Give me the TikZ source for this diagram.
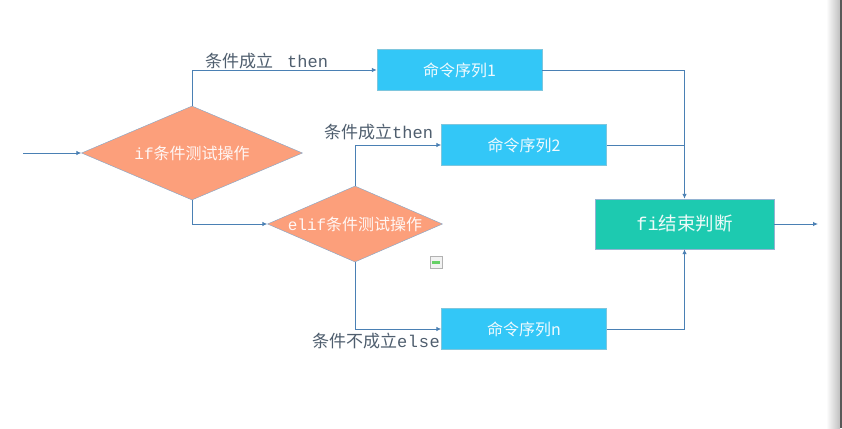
\documentclass[tikz,border=0pt]{standalone}
\usepackage{fontspec}
\setmainfont{Liberation Serif}
\newfontfamily\cjk{Noto Sans CJK SC}
\newfontfamily\mono{Liberation Mono}
\usetikzlibrary{shapes.geometric,arrows.meta}
\definecolor{boxblue}{HTML}{33C7F7}
\definecolor{salmon}{HTML}{FC9F7B}
\definecolor{teal}{HTML}{1DCAB0}
\definecolor{linec}{HTML}{4A80B4}
\definecolor{labc}{HTML}{4F5E6E}
\begin{document}
\begin{tikzpicture}[x=1pt,y=-1pt,
  cmdbox/.style={draw=boxblue!80!black!60, fill=boxblue, minimum width=165pt, minimum height=41pt, inner sep=0pt, text=white!92!boxblue, font=\cjk\fontsize{16}{18}\selectfont},
  decision/.style={diamond, draw=linec!70, fill=salmon, inner sep=0pt, text=white!92!salmon, font=\fontsize{16}{18}\selectfont},
  endbox/.style={draw=linec!60, fill=teal, minimum width=179pt, minimum height=50pt, inner sep=0pt, text=white!92!teal, font=\fontsize{18.5}{20}\selectfont},
  lab/.style={text=labc, inner sep=0pt, font=\fontsize{17}{19}\selectfont},
  conn/.style={draw=linec, line width=0.9pt},
  arr/.style={conn, -{Latex[length=5pt,width=4.5pt]}}]
\useasboundingbox (0,0) rectangle (842,428);
\fill[white] (0,0) rectangle (842,428);
% screenshot edge
\shade[left color=white, right color=black!25] (826,0) rectangle (840,428);
\fill[black!65] (840,0) rectangle (842,428);
% shapes
\node[decision, shape aspect=2.35, minimum width=221pt, minimum height=94pt] (d1) at (192,153) {{\mono if}{\cjk 条件测试操作}};
\node[decision, shape aspect=2.3, minimum width=175pt, minimum height=76pt] (d2) at (355,224) {{\mono elif}{\cjk 条件测试操作}};
\node[cmdbox] (b1) at (459.5,70) {命令序列1};
\node[cmdbox] (b2) at (524,145) {命令序列2};
\node[cmdbox] (bn) at (524,329) {命令序列n};
\node[endbox] (fi) at (684.5,224) {{\mono fi}{\cjk 结束判断}};
\coordinate (in) at (23,153);
\coordinate (out) at (818,224);
% connectors
\draw[arr] (in) -- (d1.west);
\draw[arr] (d1.north) |- (b1.west);
\draw[arr] (d1.south) |- (d2.west);
\draw[arr] (d2.north) |- (b2.west);
\draw[arr] (d2.south) |- (bn.west);
\draw[arr] (b1.east) -| (fi.north);
\draw[conn] (b2.east) -- (b2.east -| fi.north);
\draw[arr] (bn.east) -| (fi.south);
\draw[arr] (fi.east) -- (out);
% labels
\node[lab, anchor=west] (l1) at (205,61) {{\cjk 条件成立}\hspace{14pt}{\mono then}};
\node[lab, anchor=west] (l2) at (324,132) {{\cjk 条件成立}{\mono then}};
\node[lab, anchor=east] (l3) at (440,341) {{\cjk 条件不成立}{\mono e\hspace{0.6pt}l\hspace{0.6pt}s\hspace{0.6pt}e}};
% small icon artifact
\draw[black!30, fill=black!5] (430,256) rectangle (442,268);
\fill[green!70!black!60] (432,260.5) rectangle (440,263.5);
\end{tikzpicture}
\end{document}
